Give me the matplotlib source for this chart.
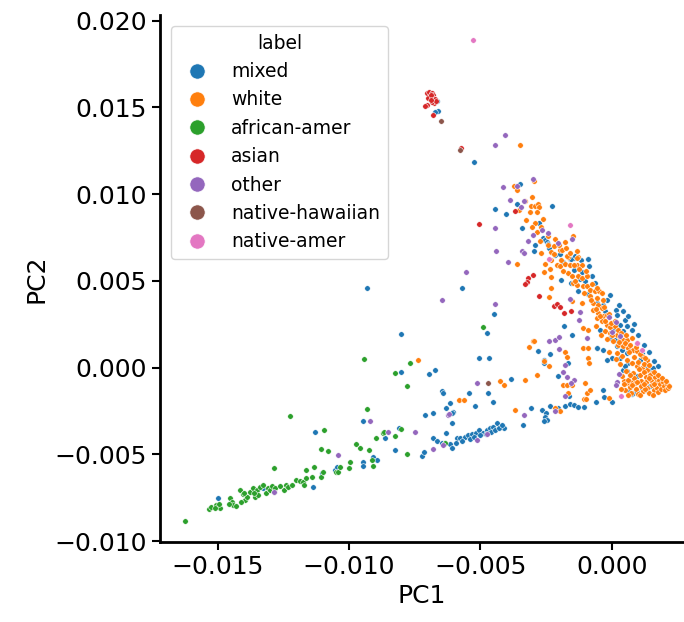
import matplotlib
matplotlib.use('Agg')
import matplotlib.pyplot as plt
from matplotlib.lines import Line2D

# PCA coordinates, in units of 1e-3
mixed_pc1 = [-6.65, -6.62, -6.73, -5.25, -3.50, -3.61, -2.28, -4.45, -4.03, -2.78, -3.42,
             -2.62, -2.55, -2.47, -2.43, -2.93, -2.97, -2.40, -2.17, -1.98, -1.60, -1.44, -0.91,
             -9.32, -5.70, -4.49, -4.75, -1.94, -1.83, -1.52, -2.81, -2.36, -2.59, -2.59, -1.67,
             -0.57, -5.06, -4.68, -3.84, -2.05, -1.63, -0.61,
             -5.44, -4.71, -4.52, -5.21, -6.05, -6.08, -3.38, -3.08, -2.66, -2.51, -2.55, -2.47,
             -2.59, -2.36, -2.05, -1.79, -1.60, -1.44, -1.29, -1.06, -0.30, -0.34, 0.00, 0.65, 0.76,
             -8.02, -9.47, -8.10, -8.63, -6.81, -6.65, -6.46, -6.35, -6.16,
             -6.08, -5.89, -5.78, -5.59, -5.48, -5.32, -5.17, -5.06, -4.90, -4.75, -4.64, -4.52,
             -4.37, -4.18, -4.11,
             -5.95, -5.70, -5.40, -5.25, -5.00, -4.80, -4.60, -4.45, -4.30, -4.20,
             -7.22, -7.15, -8.25, -9.47, -9.47, -9.09, -8.94,
             -14.98, -13.27, -12.93, -11.37, -11.03, -10.53, -10.46, -11.29,
             -8.02, -6.96, -6.73, -6.46, -6.43, -6.31, -6.16, -6.08, -6.31, -7.11, -6.81,
             -1.57, -1.41, -1.19, -0.90, -0.86, -1.44, -1.15, -0.75, -1.57, -1.03, -1.28, -0.90,
             -0.08, -0.58, -0.33, 0.14, 0.43, -0.27, 0.18, 0.49, 0.30, 0.56, 0.75, 0.05, 0.43,
             -0.08, 0.18, 0.37, 0.56, 0.94, 0.87, 1.13, 1.06, 0.62, 0.30, -0.01, -0.20, -0.33,
             -0.58, 1.32, 1.44, 1.57, 0.43, 0.56, 0.75, 0.94, 0.62, 0.79, 0.94, 1.13, 1.32, 1.44, 1.57,
             -1.85, -1.20, -0.65, -0.20, 0.25, 0.60, 0.85, 1.00, 1.20, 1.40, 1.60, 1.75,
             -0.45, 0.10, 0.50]
mixed_pc2 = [15.38, 14.78, 14.72, 11.87, 10.60, 9.45, 9.33, 9.16, 8.87, 8.35, 8.06,
             7.49, 7.37, 7.26, 7.14, 7.09, 6.74, 6.91, 6.51, 6.57, 6.28, 6.34, 6.28,
             4.61, 4.61, 3.11, 2.02, 5.07, 2.42, 1.90, 0.98, 0.81, 0.46, 0.29, 0.29,
             1.15, 0.58, 0.58, -0.63, -0.46, -1.61, -1.96,
             -1.44, -1.44, -1.96, -2.19, -2.53, -3.17, -3.28, -2.30, -2.42, -2.59, -2.82, -3.00,
             -3.05, -2.19, -2.30, -2.19, -2.07, -2.13, -2.25, -2.25, -1.67, -1.27, -1.96, -1.44, -1.50,
             1.96, -3.05, -3.46, -4.03, -4.03, -4.21, -4.32, -4.32, -4.38,
             -4.61, -4.03, -4.03, -3.97, -3.86, -3.80, -3.74, -3.57, -3.74, -3.57, -3.46, -3.40,
             -3.17, -3.40, -3.46,
             -4.35, -4.21, -4.10, -4.00, -3.90, -3.85, -3.70, -3.60, -3.50, -3.30,
             -5.07, -4.84, -4.72, -5.41, -5.65, -5.13, -5.30,
             -7.49, -6.91, -6.85, -6.85, -6.05, -5.88, -5.70, -3.69,
             -0.23, -0.35, -0.12, -1.32, -1.44, -2.30, -2.02, -2.59, -3.74, -2.71, -2.59,
             6.26, 6.41, 6.22, 6.26, 5.89, 5.61, 5.49, 5.26, 4.88, 4.97, 4.40, 4.24,
             4.17, 3.73, 3.63, 3.30, 3.24, 3.24, 3.05, 2.76, 2.48, 2.38, 2.19, 2.19, 2.09,
             1.71, 1.23, 1.04, 0.85, 1.42, 1.04, 0.85, 0.46, 0.27, 0.56, 0.56, 0.46, 1.04,
             1.13, 0.08, -0.12, -0.02, -0.12, -0.21, -0.40, -0.50, -1.37, -1.46, -1.42, -1.17, -1.27, -1.08, -0.88,
             6.10, 5.10, 4.90, 3.90, 3.60, 3.00, 2.50, 1.90, 1.30, 0.90, 0.40, 0.10,
             2.20, 1.60, 0.10]

white_pc1 = [-3.50, -2.97, -3.73, -3.61, -3.04, -3.08, -2.93, -2.81, -2.78, -3.54, -3.12, -2.85,
             -2.62, -3.27, -2.93, -3.04, -2.70, -2.85, -1.48, -1.79, -2.70, -2.32, -2.21, -1.98,
             -1.90, -1.67, -1.33, -1.29, -3.61, -2.32, -2.32, -2.40, -1.52, -1.14, -1.10, -0.91,
             -3.00, -3.16, -1.79, -1.71, -2.40, -1.10, -0.91, -0.91, -0.87, -4.26, -4.11, -3.31,
             -2.85, -1.86, -1.71, -1.52, -1.67, -1.03, -0.95, -1.06, -0.99, -0.84, -5.82, -5.63,
             -3.69, -2.17, -1.98, -0.11, 0.46, 0.61, 0.76, -7.38, -2.97, -2.59,
             -2.10, -1.98, -1.79, -1.60, -1.34, -1.15, -1.72, -1.60, -1.34, -1.66, -1.53, -1.28,
             -1.15, -0.96, -1.47, -1.32, -1.11, -0.94, -0.84, -0.65, -0.48, -0.39, -0.84, -0.58,
             -0.33, -0.71, -0.52, -0.39, -0.71, -0.52, -0.33, -0.20, -0.58, -0.39, -0.20, -0.08,
             0.11, -0.27, -0.08, 0.18, 0.30, 0.43, 0.56, 0.75, -0.20, 0.05, 0.24, 0.43, 0.62,
             0.81, 0.94, 1.13, 1.32, 0.18, 0.37, 0.56, 0.75, 0.94, 1.13, 1.32, 1.51,
             -2.55, -2.35, -2.60, -2.45, -2.20, -2.00, -2.75, -3.30,
             0.40, 0.45, 0.50, 0.55, 0.62, 0.68, 0.72, 0.80, 0.85, 0.88, 0.92, 0.98, 1.02, 1.05,
             1.10, 1.12, 1.18, 1.22, 1.28, 1.30, 1.35, 1.40, 1.45, 1.48, 1.52, 1.58, 1.62, 1.66,
             1.70, 1.75, 1.80, 1.84, 1.88, 1.95, 1.98, 2.02, 2.08, 2.12, 2.18, 0.60, 1.05, 1.55,
             0.35, 0.75, 1.25, 1.60, 0.95, 1.40, 0.70, 1.20,
             -2.45, -2.30, -2.15, -1.95, -1.85, -1.75, -1.45, -1.40, -1.25, -1.05, -1.00, -0.80,
             -0.75, -0.62, -0.55, -0.45, -0.30, -0.25, -0.12, -0.05, 0.02, 0.10, 0.22, 0.28,
             0.35, 0.48, 0.52, 0.65, 0.70, 0.85, 0.90, 1.00, 1.05, 1.20, 1.25, 1.40, 1.60,
             1.75, 1.90, 2.05, 0.30, 0.15, -0.10, -0.40, -0.60]
white_pc2 = [12.85, 10.77, 10.48, 10.25, 9.85, 9.33, 9.33, 9.45, 9.27, 9.10, 8.99, 8.99,
             8.58, 8.53, 8.35, 8.12, 8.12, 7.83, 7.60, 7.26, 6.62, 6.68, 6.57, 6.80,
             6.80, 6.39, 6.74, 6.39, 5.99, 5.24, 4.61, 4.09, 3.86, 3.74, 2.30, 2.19,
             1.56, 1.21, 0.92, 0.63, 0.12, 1.15, 1.15, 0.58, 0.29, -0.75, -0.98, -0.69,
             -0.40, -0.98, -0.98, -0.98, -1.44, -0.86, -1.44, -1.79, -1.79, -1.27, -1.84, -1.84,
             -2.42, -2.30, -2.48, -1.73, -0.75, -0.86, -0.81, 0.46, 1.56, 0.40,
             5.93, 5.84, 5.97, 5.93, 5.93, 5.93, 6.41, 6.61, 6.32, 5.45, 5.30, 5.26,
             5.17, 5.26, 4.88, 4.78, 4.72, 4.68, 4.49, 4.40, 4.40, 4.30, 4.11, 4.01,
             3.92, 3.73, 3.63, 3.44, 3.34, 3.15, 2.96, 3.05, 2.86, 2.67, 2.48, 2.34,
             2.38, 2.09, 2.00, 1.90, 1.71, 1.61, 1.57, 1.71, 1.65, 1.52, 1.32, 1.23, 1.13,
             1.04, 0.94, 0.65, 0.46, 0.85, 0.65, 0.46, 0.27, 0.12, -0.02, -0.12, -0.31,
             6.00, 5.70, 5.50, 7.60, 7.00, 7.10, 7.30, 9.60,
             -0.50, -0.95, -1.30, -0.20, -0.70, -1.10, -1.45, -0.30, -0.60, -0.90, -1.25, -1.50, -0.10, -0.45,
             -0.75, -1.05, -1.35, -0.25, -0.55, -0.85, -1.15, -1.45, -0.40, -0.70, -1.00, -1.30, -0.55, -0.85,
             -1.15, -1.40, -0.70, -0.95, -1.20, -0.85, -1.05, -1.30, -0.95, -1.15, -1.05, -1.60, -1.60, -1.55,
             -1.20, -1.00, -1.20, -0.95, -0.80, -0.60, -0.40, -0.95,
             7.10, 6.20, 7.40, 6.20, 5.60, 6.90, 5.90, 5.00, 5.70, 4.30, 5.60, 3.90,
             4.80, 3.40, 4.60, 3.00, 3.50, 2.70, 3.10, 2.60, 1.90, 2.70, 2.20, 1.50,
             2.00, 1.40, 1.90, 0.90, 1.30, 0.60, 1.20, 0.30, 0.80, 0.20, 0.55, 0.15, -0.25,
             -0.45, -0.60, -0.75, 0.20, 0.50, 0.90, 1.90, 2.40]

african_pc1 = [-16.24, -15.32, -15.25, -15.06, -14.90, -14.94, -15.10,
               -14.52, -14.45, -14.41, -14.55, -14.30,
               -14.14, -14.05, -13.95, -13.88, -14.10, -13.98,
               -13.76, -13.65, -13.57, -13.50, -13.38, -13.45, -13.62,
               -13.27, -13.15, -13.08, -13.00, -12.93, -12.85, -12.81, -12.85,
               -12.62, -12.47, -12.40, -12.32, -12.24,
               -12.17, -12.02, -11.86, -11.75, -11.63, -11.70, -11.63, -11.33, -11.41,
               -11.06, -10.99, -11.06, -10.80, -10.95, -10.49, -10.42, -10.34, -10.00, -9.96,
               -9.73, -9.58, -9.24, -9.32, -9.13, -9.09, -8.97, -8.71, -8.67, -8.25, -8.02,
               -8.25, -7.79, -7.79, -6.35, -4.90, -9.43, -7.68]
african_pc2 = [-8.81, -8.12, -8.01, -7.89, -8.06, -7.83, -8.10,
               -7.49, -7.72, -7.89, -7.83, -7.95,
               -7.03, -7.30, -7.60, -7.43, -7.72, -7.20,
               -7.14, -6.91, -7.43, -7.03, -6.85, -7.32, -7.25,
               -6.74, -7.20, -6.91, -7.03, -6.80, -7.14, -6.91, -5.76,
               -6.80, -7.03, -6.74, -6.85, -2.76,
               -6.74, -6.45, -6.51, -6.57, -6.34, -6.74, -5.88, -5.70, -6.28,
               -6.28, -5.99, -4.67, -4.78, -3.57, -5.99, -5.99, -5.70, -5.76, -5.41,
               -4.38, -4.61, -4.72, -2.36, -5.30, -5.65, -4.03, -3.74, -3.69, -3.92, -3.51,
               -0.29, -1.04, -4.95, -4.32, 2.36, 0.52, 0.29]

asian_pc1 = [-7.03, -6.96, -6.84, -6.81, -6.92, -6.81, -6.73, -7.00, -6.77, -6.84, -7.03,
             -7.11, -6.69, -6.88, -6.90, -6.81, -5.74, -3.69, -5.06, -3.00, -3.19, -3.23,
             -3.31, -2.78, -2.21, -2.09, -1.98, -1.83, -1.56]
asian_pc2 = [15.84, 15.90, 15.84, 15.73, 15.61, 15.55, 15.50, 15.55, 15.26, 15.32, 15.15,
             15.09, 15.38, 15.73, 15.45, 14.57, 12.67, 9.04, 8.29, 5.36, 5.18, 4.95,
             4.84, 4.15, 3.57, 3.69, 3.51, 3.17, 3.28]

other_pc1 = [-4.07, -4.45, -3.00, -4.14, -3.61, -3.88, -3.35, -3.46, -4.45, -2.66, -2.43,
             -3.00, -3.19, -2.05, -1.52, -4.41, -3.42, -3.35, -3.95, -5.55, -4.45, -1.60,
             -1.22, -1.25, -2.40, -2.17, -2.02, -0.95, -2.02, -1.79, -1.86, -5.13, -1.71,
             -1.44, -1.56, -1.79, -3.35, -2.17, 0.19, 0.15, -6.46, -6.24, -9.20, -8.52,
             -7.49, -4.75, -5.13, -6.43, -6.81, -12.85, -10.42, -6.20,
             -0.11, 0.15, 0.00, 0.30, 0.27]
other_pc2 = [13.42, 12.85, 10.89, 10.43, 10.48, 9.68, 9.62, 9.27, 8.06, 7.95, 7.78,
             7.66, 7.32, 7.20, 7.43, 6.74, 6.74, 6.62, 6.11, 5.53, 3.69, 3.97,
             3.23, 2.76, 1.56, 1.61, 1.79, 1.73, 1.09, 0.17, -0.23, -0.86, -0.52,
             -0.69, -0.86, -1.61, -2.71, -2.48, -0.81, -0.98, 3.92, -2.71, -3.05, -3.69,
             -3.69, -3.80, -4.15, -4.44, -4.67, -7.14, -5.01, -2.65,
             2.94, 2.65, 2.07, 1.84, -0.35]

hawaiian_pc1 = [-6.50, -5.78, -4.71]
hawaiian_pc2 = [14.23, 12.56, -0.86]

native_pc1 = [-5.29, -1.60, -2.40, 0.34, 0.95, 1.14]
native_pc2 = [18.89, 8.24, 6.28, -1.61, 1.44, 1.04]

labels = ['mixed', 'white', 'african-amer', 'asian', 'other', 'native-hawaiian', 'native-amer']
colors = ['#1f77b4', '#ff7f0e', '#2ca02c', '#d62728', '#9467bd', '#8c564b', '#e377c2']
series = [(mixed_pc1, mixed_pc2), (white_pc1, white_pc2), (african_pc1, african_pc2),
          (asian_pc1, asian_pc2), (other_pc1, other_pc2), (hawaiian_pc1, hawaiian_pc2),
          (native_pc1, native_pc2)]

fig = plt.figure(figsize=(6.84, 6.22), dpi=100)
ax = fig.add_axes([0.2339, 0.1291, 0.7661, 0.8468])

for (xs, ys), color in zip(series, colors):
    ax.scatter([x / 1000 for x in xs], [y / 1000 for y in ys], s=16, color=color,
               edgecolor='white', linewidth=0.4, zorder=2)

ax.set_xlim(-0.01719, 0.00274)
ax.set_ylim(-0.01003, 0.02033)
ax.set_xticks([-0.015, -0.010, -0.005, 0.000])
ax.set_yticks([-0.010, -0.005, 0.000, 0.005, 0.010, 0.015, 0.020])
ax.set_xticklabels(['\u22120.015', '\u22120.010', '\u22120.005', '0.000'])
ax.set_yticklabels(['\u22120.010', '\u22120.005', '0.000', '0.005', '0.010', '0.015', '0.020'])
ax.tick_params(labelsize=18, width=1.5, length=6)
ax.set_xlabel('PC1', fontsize=18)
ax.set_ylabel('PC2', fontsize=18)
for side in ['top', 'right']:
    ax.spines[side].set_visible(False)
for side in ['left', 'bottom']:
    ax.spines[side].set_linewidth(2)

handles = [Line2D([0], [0], marker='o', linestyle='', markersize=11, color=c,
                  markeredgecolor='white', markeredgewidth=0.5) for c in colors]
ax.legend(handles, labels, title='label', loc='upper left', fontsize=13.5,
          title_fontsize=13.5, borderaxespad=0.6)

fig.savefig('out.png', dpi=100)
